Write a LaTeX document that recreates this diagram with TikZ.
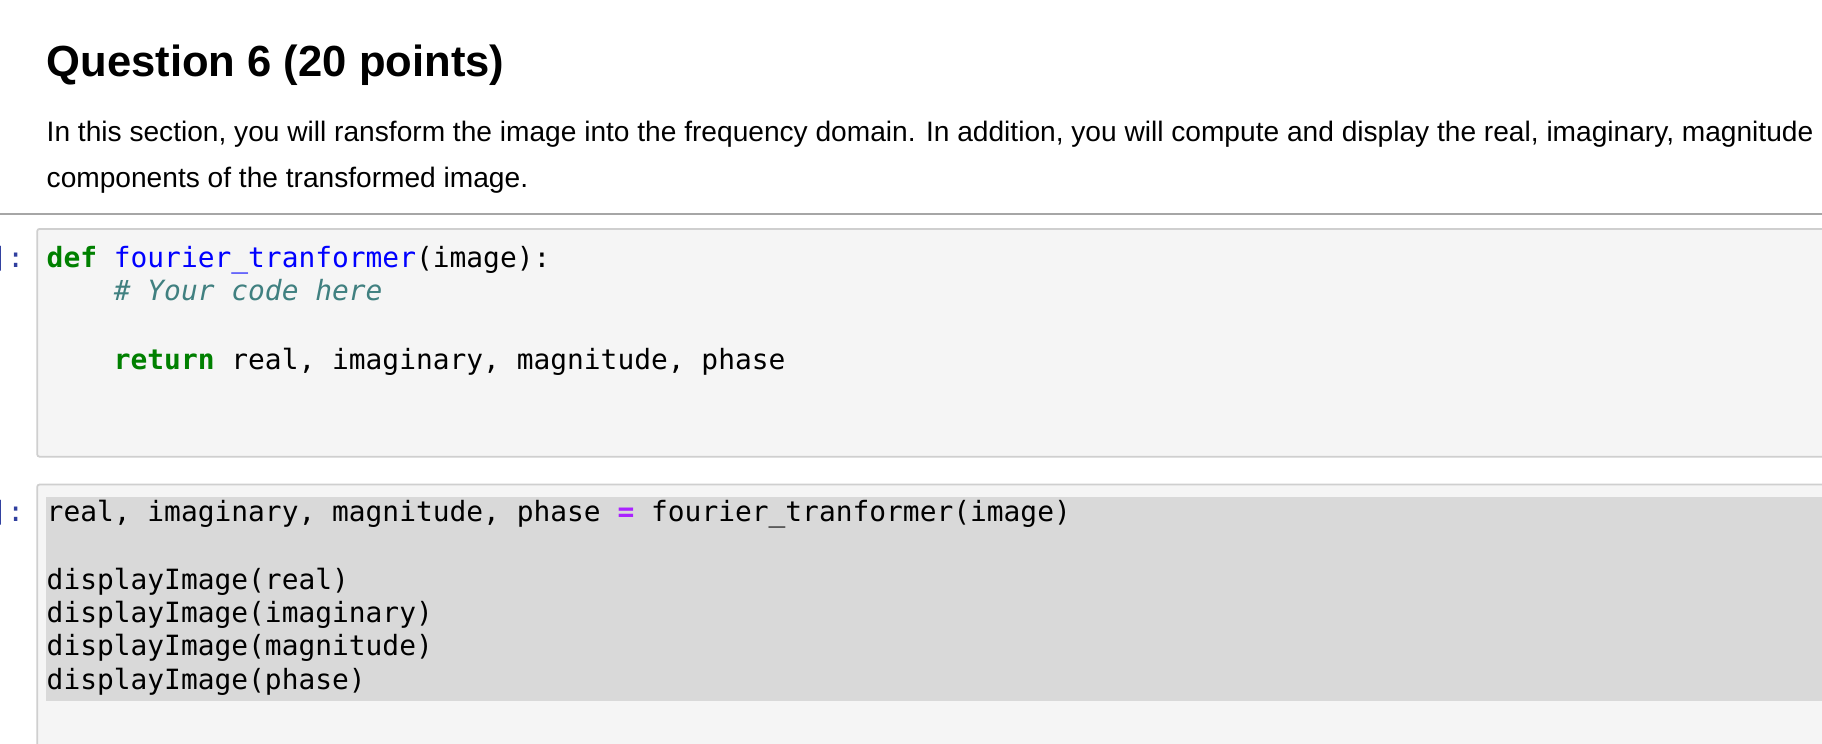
\documentclass[tikz,border=0pt]{standalone}
\usepackage{fontspec}
\setmainfont{Liberation Sans}
\setmonofont{DejaVu Sans Mono}
\definecolor{kw}{HTML}{008000}
\definecolor{fn}{HTML}{0000FF}
\definecolor{cm}{HTML}{408080}
\definecolor{op}{HTML}{AA22FF}
\definecolor{pr}{HTML}{303F9F}
\definecolor{cellbg}{HTML}{F5F5F5}
\definecolor{cellbd}{HTML}{CFCFCF}
\definecolor{hl}{HTML}{D9D9D9}
\newcommand{\us}{\symbol{95}}
\tikzset{
  txt/.style={anchor=base west, inner sep=0pt, font=\fontsize{24.2}{28}\selectfont},
  code/.style={anchor=base west, inner sep=0pt, font=\ttfamily\fontsize{24}{28}\selectfont},
  cell/.style={draw=cellbd, fill=cellbg, line width=1.5pt, rounded corners=2pt},
}
\begin{document}
\begin{tikzpicture}[x=1pt,y=-1pt]
\useasboundingbox (0,0) rectangle (1568,640);
\fill[white] (0,0) rectangle (1568,640);
\node[anchor=base west, inner sep=0pt, font=\bfseries\fontsize{37.5}{42}\selectfont] (title) at (40,66) {Question 6 (20 points)};
\node[txt] (p1) at (40,122) {In this section, you will ransform the image into the frequency domain. In addition, you will compute and display the real, imaginary, magnitude};
\node[txt] (p2) at (40,161) {components of the transformed image.};
\draw[gray!70, line width=1.5pt] (0,184) -- (1568,184);
% cell 1
\draw[cell] (32,197) rectangle (1580,393);
\node[code, text=pr, anchor=base east] (pr1) at (21,230) {]:};
\node[code] (c1) at (40,230) {\textcolor{kw}{\bfseries def} \textcolor{fn}{fourier\us tranformer}(image):};
\node[code, text=cm, font=\ttfamily\itshape\fontsize{24}{28}\selectfont] (c2) at (40,259) {\phantom{def }\# Your code here};
\node[code] (c3) at (40,318) {\phantom{def }\textcolor{kw}{\bfseries return} real, imaginary, magnitude, phase};
% cell 2
\draw[cell] (32,417) rectangle (1580,660);
\fill[hl] (40,428) rectangle (1568,603);
\node[code, text=pr, anchor=base east] (pr2) at (21,449) {]:};
\node[code] (d1) at (40,449) {real, imaginary, magnitude, phase \textcolor{op}{\bfseries =} fourier\us tranformer(image)};
\node[code] (d2) at (40,507) {displayImage(real)};
\node[code] (d3) at (40,536) {displayImage(imaginary)};
\node[code] (d4) at (40,564) {displayImage(magnitude)};
\node[code] (d5) at (40,593) {displayImage(phase)};
\end{tikzpicture}
\end{document}
